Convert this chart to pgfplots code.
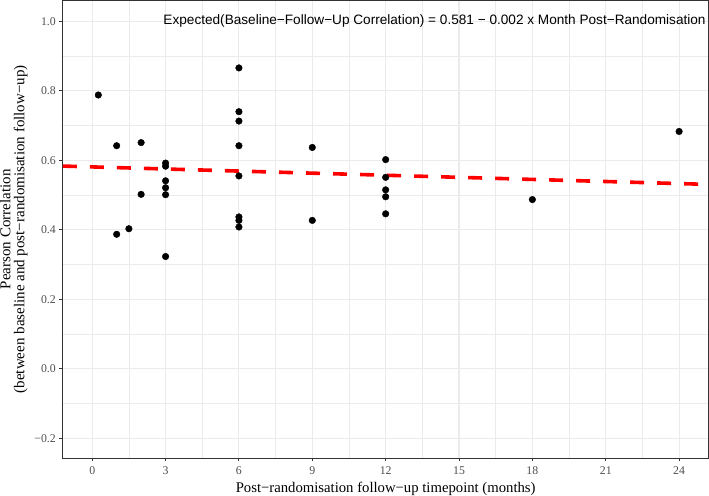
\documentclass[border=0pt]{standalone}
\usepackage{pgfplots}
\pgfplotsset{compat=1.18}
\usepackage{fontspec}
\setmainfont{Liberation Serif}
\newfontfamily\helv{Liberation Sans}
\definecolor{gridgray}{HTML}{EBEBEB}
\definecolor{gray20}{HTML}{333333}
\definecolor{gray30}{HTML}{4D4D4D}
\definecolor{ggred}{HTML}{FF0000}

\begin{document}
\begin{tikzpicture}
\begin{axis}[
  width=645pt, height=457pt, scale only axis,
  xmin=-1.2, xmax=25.2, ymin=-0.257, ymax=1.06,
  xtick={0,3,6,9,12,15,18,21,24},
  xticklabels={0,3,6,9,12,15,18,21,24},
  ytick={-0.2,0,0.2,0.4,0.6,0.8,1.0},
  yticklabels={−0.2,0.0,0.2,0.4,0.6,0.8,1.0},
  minor xtick={1.5,4.5,7.5,10.5,13.5,16.5,19.5,22.5},
  minor ytick={-0.1,0.1,0.3,0.5,0.7,0.9},
  xtick pos=bottom, ytick pos=left,
  grid=both,
  major grid style={draw=gridgray, line width=1.1pt},
  minor grid style={draw=gridgray, line width=0.55pt},
  axis line style={draw=gray20, line width=0.9pt},
  tick align=outside, major tick length=3.5pt, minor tick length=0pt,
  major tick style={draw=gray20, line width=0.9pt},
  ticklabel style={font=\fontsize{11.8}{13}\selectfont, text=gray30},
  xticklabel style={yshift=-2pt},
  /pgf/number format/assume math mode=true,
  xlabel={Post−randomisation follow−up timepoint (months)},
  xlabel style={at={(axis description cs:0.5,0)}, anchor=base, yshift=-34.5pt,
    font=\fontsize{14.7}{16}\selectfont, inner sep=0pt},
  ylabel={Pearson Correlation\\(between baseline and post−randomisation follow−up)},
  ylabel style={at={(axis description cs:-0.0977,0.5)}, anchor=north,
    font=\fontsize{15}{14}\selectfont, align=center, inner sep=0pt},
  clip=true,
]
% baseline-follow-up correlations by month
\addplot[only marks, mark=*, mark size=3.3pt, mark options={fill=black, draw=black}] coordinates {
  (0.25,0.788)
  (1,0.642) (1,0.387)
  (1.5,0.403)
  (2,0.651) (2,0.502)
  (3,0.592) (3,0.583) (3,0.541) (3,0.521) (3,0.501) (3,0.323)
  (6,0.866) (6,0.740) (6,0.713) (6,0.642) (6,0.555) (6,0.437) (6,0.427) (6,0.408)
  (9,0.637) (9,0.427)
  (12,0.602) (12,0.551) (12,0.515) (12,0.495) (12,0.446)
  (18,0.487)
  (24,0.683)
};
% fitted line 0.581 - 0.002 x
\addplot[ggred, line width=3.6pt, dash pattern=on 14pt off 13pt] coordinates {
  (-1.2,0.5834) (25.2,0.5306)
};
\node[font=\helv\fontsize{13.6}{15}\selectfont, anchor=center] at (axis cs:14,1.0)
  {Expected(Baseline−Follow−Up Correlation) = 0.581 − 0.002 x Month Post−Randomisation};
\end{axis}
\end{tikzpicture}
\end{document}
